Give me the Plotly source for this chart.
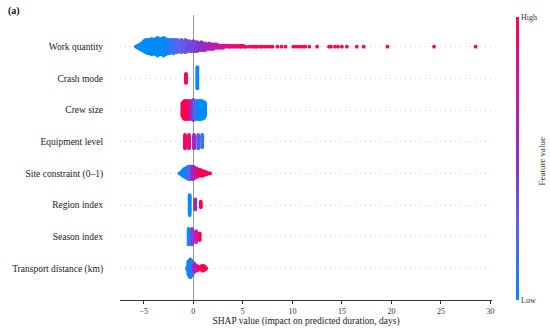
import plotly.graph_objects as go

# ---------------- data ----------------
features = ["Work quantity", "Crash mode", "Crew size", "Equipment level",
            "Site constraint (0\u20131)", "Region index", "Season index",
            "Transport distance (km)"]

# Work quantity: dense part (SHAP value bins, number of samples, mean feature value)
wq_x = [-5.8, -5.6, -5.4, -5.2, -5.0, -4.8, -4.6, -4.4, -4.2, -4.0, -3.8, -3.6, -3.4, -3.2, -3.0,
        -2.8, -2.6, -2.4, -2.2, -2.0, -1.8, -1.6, -1.4, -1.2, -1.0, -0.8, -0.6, -0.4, -0.2, 0.0,
        0.2, 0.4, 0.6, 0.8, 1.0, 1.2, 1.4, 1.6, 1.8, 2.0, 2.2, 2.4, 2.6, 2.8, 3.0, 3.2, 3.4]
wq_n = [1, 3, 5, 7, 10, 12, 13, 13, 15, 13, 15, 17, 15, 15, 17,
        15, 13, 13, 12, 13, 12, 12, 10, 12, 10, 12, 10, 10, 9, 10,
        9, 9, 7, 8, 7, 7, 5, 6, 5, 5, 4, 4, 3, 3, 3, 2, 2]
wq_f = [0.0] * 15 + [0.03, 0.06, 0.10, 0.13, 0.16, 0.19, 0.22, 0.25, 0.27, 0.29, 0.31, 0.33,
                     0.35, 0.37, 0.39, 0.41, 0.44, 0.47, 0.50, 0.53, 0.56, 0.59, 0.62, 0.65,
                     0.68, 0.70, 0.72, 0.74, 0.76, 0.78, 0.80, 0.82]
# Work quantity: long positive tail
wq_tail_x = [3.6, 3.7, 3.9, 4.0, 4.2, 4.3, 4.5, 4.7, 4.8, 5.0, 5.2, 5.3, 5.6, 5.9, 6.1, 6.3,
             6.4, 6.7, 6.9, 7.2, 7.5, 7.8, 8.0, 8.5, 8.9, 9.3, 10.1, 10.4, 10.7, 11.0, 11.3,
             11.7, 12.5, 13.7, 13.9, 14.3, 14.6, 15.0, 15.5, 16.5, 17.2, 19.6, 24.3, 28.5]
wq_tail_n = [2, 1, 2, 1, 2, 1, 2, 1, 2, 2, 1, 1, 1, 1, 1, 1,
             1, 1, 1, 1, 1, 1, 1, 1, 1, 1, 1, 1, 1, 1, 1,
             1, 1, 1, 1, 1, 1, 1, 1, 1, 1, 1, 1, 1]
wq_tail_f = [0.84, 0.85, 0.86, 0.87, 0.88, 0.89, 0.90, 0.91, 0.92, 0.93, 0.94, 0.95, 0.96,
             0.97, 0.98, 0.99] + [1.0] * 28

cm_x = [-0.74, 0.41]
cm_n = [9, 20]
cm_f = [1.0, 0.0]

cs_x = [-1.1, -1.0, -0.9, -0.8, -0.7, -0.6, -0.5, -0.4, -0.3, -0.2, -0.1, 0.0,
        0.1, 0.2, 0.3, 0.4, 0.5, 0.6, 0.7, 0.8, 0.9, 1.0, 1.1, 1.2]
cs_n = [12, 15, 17, 17, 17, 17, 17, 17, 15, 17, 17, 19,
        17, 17, 17, 17, 17, 17, 17, 17, 17, 15, 15, 12]
cs_f = [1.0, 1.0, 1.0, 1.0, 1.0, 1.0, 1.0, 0.93, 0.85, 0.70, 0.55, 0.45,
        0.35, 0.25, 0.15, 0.08, 0.05, 0.03, 0.0, 0.0, 0.0, 0.0, 0.0, 0.0]

eq_x = [-0.84, -0.43, 0.07, 0.50, 0.90]
eq_n = [13, 13, 13, 13, 12]
eq_f = [1.0, 0.9, 0.55, 0.3, 0.12]

sc_x = [-1.4, -1.3, -1.2, -1.1, -1.0, -0.9, -0.8, -0.7, -0.6, -0.5, -0.4, -0.3, -0.2, -0.1, 0.0,
        0.1, 0.2, 0.3, 0.4, 0.5, 0.6, 0.7, 0.8, 0.9, 1.0, 1.1, 1.2, 1.3, 1.4, 1.5, 1.6, 1.7]
sc_n = [1, 1, 3, 5, 6, 8, 8, 10, 10, 12, 12, 12, 12, 12, 12,
        10, 10, 8, 8, 6, 6, 6, 5, 5, 5, 3, 3, 3, 1, 1, 1, 1]
sc_f = [0.0, 0.0, 0.0, 0.0, 0.0, 0.02, 0.04, 0.06, 0.08, 0.10, 0.18, 0.25, 0.33, 0.42, 0.50,
        0.60, 0.70, 0.78, 0.85, 0.90, 0.94, 0.96, 0.98, 1.0, 1.0, 1.0, 1.0, 1.0, 1.0, 1.0, 1.0, 1.0]

ri_x = [-0.37, 0.20, 0.75]
ri_n = [19, 10, 6]
ri_f = [0.0, 0.5, 1.0]

si_x = [-0.47, -0.13, 0.27, 0.64]
si_n = [15, 15, 11, 7]
si_f = [0.0, 0.4, 0.75, 1.0]

td_x = [-0.6, -0.5, -0.4, -0.3, -0.2, -0.1, 0.0, 0.1, 0.2, 0.3,
        0.4, 0.5, 0.6, 0.7, 0.8, 0.9, 1.0, 1.1, 1.2, 1.3]
td_n = [3, 12, 15, 17, 15, 13, 10, 8, 6, 5, 5, 3, 3, 3, 4, 5, 5, 4, 3, 1]
td_f = [0.0, 0.0, 0.0, 0.0, 0.05, 0.15, 0.30, 0.45, 0.60, 0.70,
        0.78, 0.85, 0.90, 0.93, 0.96, 1.0, 1.0, 1.0, 1.0, 1.0]

x_ticks = [-5, 0, 5, 10, 15, 20, 25, 30]

# ---------------- beeswarm layout ----------------
STEP = 0.035  # vertical stacking step (row units)


def swarm(xs, ns, fs, row):
    px, py, pc = [], [], []
    for x, n, f in zip(xs, ns, fs):
        for i in range(n):
            k = (i + 1) // 2
            s = 1 if i % 2 else -1
            px.append(x)
            py.append(row + s * k * STEP)
            pc.append(f)
    return px, py, pc


rows = {
    0: (wq_x + wq_tail_x, wq_n + wq_tail_n, wq_f + wq_tail_f),
    1: (cm_x, cm_n, cm_f),
    2: (cs_x, cs_n, cs_f),
    3: (eq_x, eq_n, eq_f),
    4: (sc_x, sc_n, sc_f),
    5: (ri_x, ri_n, ri_f),
    6: (si_x, si_n, si_f),
    7: (td_x, td_n, td_f),
}
n_feat = len(features)

FONT = "Liberation Serif, serif"
colorscale = [[0.0, "#008bfb"], [0.25, "#5b64ee"], [0.5, "#8f2dc8"],
              [0.75, "#cd17a6"], [1.0, "#ff0052"]]

fig = go.Figure()
for idx, (xs, ns, fs) in rows.items():
    ypos = n_feat - 1 - idx
    px, py, pc = swarm(xs, ns, fs, ypos)
    fig.add_trace(go.Scatter(
        x=px, y=py, mode="markers",
        marker=dict(size=3.8, color=pc, coloraxis="coloraxis", line=dict(width=0)),
        hoverinfo="skip", showlegend=False))

fig.update_layout(
    width=550, height=329,
    margin=dict(l=120, r=58, t=15, b=29, autoexpand=False),
    paper_bgcolor="white", plot_bgcolor="white",
    font=dict(family=FONT, color="#222"),
    coloraxis=dict(
        colorscale=colorscale, cmin=0, cmax=1,
        colorbar=dict(
            thickness=3, lenmode="pixels", len=283,
            x=1.0645, xanchor="left", xpad=0,
            y=0.993, yanchor="top", ypad=0,
            outlinewidth=0,
            tickvals=[0, 1], ticktext=["Low", "High"], ticks="",
            tickfont=dict(family=FONT, size=8, color="#333"),
        ),
    ),
    xaxis=dict(
        range=[-7.4, 30.15], tickvals=x_ticks, automargin=False,
        showline=True, linecolor="#333", linewidth=1,
        ticks="outside", ticklen=3, tickcolor="#333",
        tickfont=dict(family=FONT, size=8, color="#333"),
        showgrid=False,
        zeroline=True, zerolinecolor="#999", zerolinewidth=1,
        title=dict(text="SHAP value (impact on predicted duration, days)",
                   font=dict(family=FONT, size=9.5, color="#222"), standoff=2),
    ),
    yaxis=dict(
        range=[-1, n_feat], tickvals=list(range(n_feat)), automargin=False,
        ticktext=list(reversed(features)),
        showline=False, zeroline=False,
        showgrid=True, gridcolor="#d0d0d0", gridwidth=1, griddash="1px,4px",
        ticks="outside", ticklen=14, tickcolor="rgba(0,0,0,0)",
        tickfont=dict(family=FONT, size=9.5, color="#222"),
    ),
    annotations=[
        dict(text="Feature value", xref="paper", yref="paper", x=1.1336, y=0.488,
             textangle=-90, showarrow=False, xanchor="center", yanchor="middle",
             font=dict(family=FONT, size=9, color="#333")),
        dict(text="<b>(a)</b>", xref="paper", yref="paper", x=-0.306, y=1.014,
             showarrow=False, xanchor="left", yanchor="middle",
             font=dict(family=FONT, size=10, color="#111")),
    ],
)

fig.write_html("out.html", config={"displayModeBar": False},
               post_script="document.body.style.margin='0';document.body.style.overflow='hidden';")
